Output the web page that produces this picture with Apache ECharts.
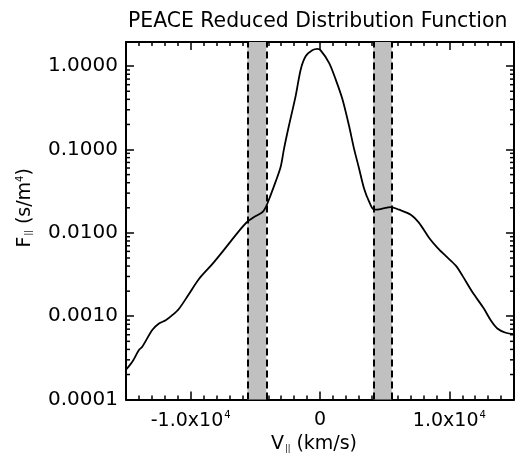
<!DOCTYPE html>
<html><head><meta charset="utf-8">
<script src="https://cdn.jsdelivr.net/npm/echarts/dist/echarts.min.js"></script>
<style>html,body{margin:0;padding:0;background:#fff}#c{width:526px;height:459px}</style>
</head><body><div id="c"></div>
<script>
// ---- data ----
const vPar = [-15000, -14500, -14000, -13740, -12970, -12450, -11930, -11420, -10900, -10130, -9360, -8330, -7290,
  -6270, -5620, -5100, -4460, -4200, -3810, -3430, -3040, -2780, -2400, -1880, -1490, -1110, -600, -210, 50,
  700, 1210, 1730, 2240, 2630, 3020, 3400, 3790, 4180, 4690, 5470, 6110, 7020, 7660, 8430, 9070, 9720,
  10500, 11010, 11780, 12680, 13200, 13710, 14360, 15000];
const fPar = [2.28e-4, 2.86e-4, 3.94e-4, 4.31e-4, 6.83e-4, 8.17e-4, 8.95e-4, 1.03e-3, 1.23e-3, 1.85e-3, 2.80e-3, 4.22e-3, 6.65e-3,
  1.05e-2, 1.36e-2, 1.55e-2, 1.77e-2, 2.02e-2, 2.86e-2, 4.12e-2, 6.21e-2, 0.1026, 0.194, 0.441, 0.914, 1.314, 1.549, 1.61, 1.549,
  1.097, 0.695, 0.403, 0.194, 0.1026, 0.0593, 0.0344, 0.0239, 0.0190, 0.0193, 0.0204, 0.0190, 0.01656, 0.01318, 0.00875, 0.00665, 0.00529,
  0.00404, 0.00307, 0.00195, 0.00123, 0.000895, 0.000713, 0.000634, 0.000611];
const bandLeft = [-5620, -4150];
const bandRight = [4120, 5550];
const xLabelTexts = {'-10000': '{n|-1.0x10}{s|4}', '0': '{n|0}', '10000': '{n|1.0x10}{s|4}'};
const yDecades = [0.0001, 0.001, 0.01, 0.1];
const yMinorMult = [2,3,4,5,6,7,8,9];
const titleText = 'PEACE Reduced Distribution Function';
const X_MIN = -15000, X_MAX = 15000, Y_MIN = 0.0001, Y_MAX = 1.95;

// ---- build ----
const FONT = 'DejaVu Sans';
const lineData = vPar.map((v, i) => [v, fPar[i]]);

function axisLine() { return {show: true, onZero: false, lineStyle: {color: '#000', width: 2}}; }
function tickMajor() { return {show: true, inside: true, length: 8, lineStyle: {color: '#000', width: 1.5}}; }
function tickMinorX() { return {show: true, splitNumber: 5, length: 4, lineStyle: {color: '#000', width: 1.5}}; }
const chart = echarts.init(document.getElementById('c'), null, {renderer: 'canvas'});
chart.setOption({
  animation: false,
  title: {text: titleText, left: 128, top: 12, padding: 0,
    textStyle: {fontFamily: FONT, fontSize: 20.4, fontWeight: 'normal', color: '#000'}},
  grid: {left: 126, right: 12, top: 42, bottom: 56, containLabel: false},
  xAxis: [{
    type: 'value', min: X_MIN, max: X_MAX, interval: 5000, position: 'bottom',
    axisLine: axisLine(), axisTick: tickMajor(), minorTick: tickMinorX(), splitLine: {show: false},
    axisLabel: {margin: 11, color: '#000', fontFamily: FONT, fontSize: 19,
      formatter: v => xLabelTexts[String(v)] || '',
      rich: {n: {fontFamily: FONT, fontSize: 19, color: '#000'},
             s: {fontFamily: FONT, fontSize: 10, color: '#000', verticalAlign: 'top', padding: [0, 0, 10, 1]}}},
    name: '{n|V}{b|||}{n| (km/s)}', nameLocation: 'middle', nameGap: 32,
    nameTextStyle: {fontFamily: FONT, fontSize: 19, color: '#000', padding: [0, 12, 0, 0],
      rich: {n: {fontFamily: FONT, fontSize: 19, color: '#000'},
             b: {fontFamily: FONT, fontSize: 8, color: '#000', padding: [8, 0, 0, 1]}}}
  }, {
    type: 'value', min: X_MIN, max: X_MAX, interval: 5000, position: 'top',
    axisLine: axisLine(), axisTick: tickMajor(), minorTick: tickMinorX(), splitLine: {show: false}, axisLabel: {show: false}
  }],
  yAxis: [{
    type: 'log', logBase: 10, min: Y_MIN, max: Y_MAX, position: 'left',
    axisLine: axisLine(), axisTick: tickMajor(), splitLine: {show: false}, minorTick: {show: false},
    axisLabel: {margin: 8, color: '#000', fontFamily: FONT, fontSize: 20, showMaxLabel: false,
      formatter: v => { const l = Math.log10(v); return Math.abs(l - Math.round(l)) < 1e-6 ? v.toFixed(4) : ''; }},
    name: '{n|F}{b|||}{n| (s/m}{s|4}{n|)}', nameLocation: 'middle', nameGap: 91,
    nameTextStyle: {fontFamily: FONT, fontSize: 19, color: '#000', padding: [0, 0, 0, 26],
      rich: {n: {fontFamily: FONT, fontSize: 19, color: '#000'},
             b: {fontFamily: FONT, fontSize: 8, color: '#000', padding: [8, 0, 0, 1]},
             s: {fontFamily: FONT, fontSize: 10, color: '#000', padding: [0, 0, 10, 0]}}}
  }, {
    type: 'log', logBase: 10, min: Y_MIN, max: Y_MAX, position: 'right',
    axisLine: axisLine(), axisTick: tickMajor(), splitLine: {show: false}, minorTick: {show: false}, axisLabel: {show: false}
  }],
  series: [{
    type: 'line', data: lineData, xAxisIndex: 0, yAxisIndex: 0, showSymbol: false, smooth: 0.3,
    lineStyle: {color: '#000', width: 1.8},
    markArea: {silent: true, itemStyle: {color: '#c0c0c0'},
      data: [[{xAxis: bandLeft[0]}, {xAxis: bandLeft[1]}], [{xAxis: bandRight[0]}, {xAxis: bandRight[1]}]]},
    markLine: {silent: true, symbol: 'none', label: {show: false},
      lineStyle: {color: '#000', width: 2, type: [7, 4]},
      data: [{xAxis: bandLeft[0]}, {xAxis: bandLeft[1]}, {xAxis: bandRight[0]}, {xAxis: bandRight[1]}]}
  }]
});

// ---- logarithmic minor ticks on both y sides, placed through the chart's own scales ----
(function addMinorTicks() {
  const els = [];
  const gL = chart.convertToPixel({seriesIndex: 0}, [X_MIN, 1])[0];
  const gR = chart.convertToPixel({seriesIndex: 0}, [X_MAX, 1])[0];
  yDecades.forEach(d => yMinorMult.forEach(m => {
    const y = chart.convertToPixel({seriesIndex: 0}, [0, d * m])[1];
    els.push({type: 'line', shape: {x1: gL, y1: y, x2: gL + 4, y2: y}, style: {stroke: '#000', lineWidth: 1.5}});
    els.push({type: 'line', shape: {x1: gR, y1: y, x2: gR - 4, y2: y}, style: {stroke: '#000', lineWidth: 1.5}});
  }));
  chart.setOption({graphic: {elements: els}});
})();
</script></body></html>
